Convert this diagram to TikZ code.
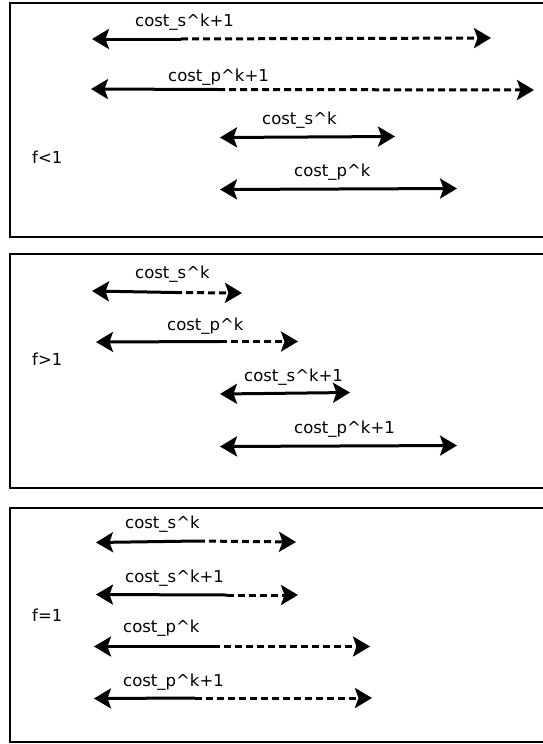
\documentclass[tikz,border=0pt]{standalone}
\usepackage{fontspec}
\setmainfont{DejaVu Sans}
\usetikzlibrary{arrows.meta}
\tikzset{
  headtip/.tip={Stealth[length=17pt,width=20pt,inset=3.5pt]},
  panel/.style={line width=2.6pt, draw=black},
  lbl/.style={anchor=base west, inner sep=0pt, font=\fontsize{16.5pt}{19pt}\selectfont},
  solidpart/.style={line width=3pt, -headtip},
  dashpart/.style={line width=3pt, dash pattern=on 7pt off 4pt, -headtip},
  bothtips/.style={line width=3pt, headtip-headtip}
}
\begin{document}
\begin{tikzpicture}[x=1pt,y=-1pt]
\useasboundingbox (0,0) rectangle (543,744);
\clip (0,0) rectangle (543,744);
% panels
\draw[panel] (10,3) rectangle (570,237);
\draw[panel] (10,254) rectangle (570,488);
\draw[panel] (10,508) rectangle (570,742);

% ---------- panel 1: f<1 ----------
\node[lbl] (f1) at (32,163) {f<1};
\node[lbl] (la1) at (135,27) {cost\_s\^{}k+1};
\coordinate (a1l) at (92,39); \coordinate (a1m) at (181,39); \coordinate (a1r) at (491,38);
\draw[solidpart] (a1m) -- (a1l);
\draw[dashpart] (a1m) -- (a1r);
\node[lbl] (la2) at (168,81) {cost\_p\^{}k+1};
\coordinate (a2l) at (91,89); \coordinate (a2m) at (218,89.5); \coordinate (a2r) at (534,90);
\draw[solidpart] (a2m) -- (a2l);
\draw[dashpart] (a2m) -- (a2r);
\node[lbl] (la3) at (262,124) {cost\_s\^{}k};
\coordinate (a3l) at (220,137.5); \coordinate (a3r) at (395,136.5);
\draw[bothtips] (a3l) -- (a3r);
\node[lbl] (la4) at (294,176) {cost\_p\^{}k};
\coordinate (a4l) at (220,189.5); \coordinate (a4r) at (457,188.5);
\draw[bothtips] (a4l) -- (a4r);

% ---------- panel 2: f>1 ----------
\node[lbl] (f2) at (32,365) {f>1};
\node[lbl] (lb1) at (135,278) {cost\_s\^{}k};
\coordinate (b1l) at (92,291); \coordinate (b1m) at (175,292.5); \coordinate (b1r) at (242,293);
\draw[solidpart] (b1m) -- (b1l);
\draw[dashpart] (b1m) -- (b1r);
\node[lbl] (lb2) at (167,330) {cost\_p\^{}k};
\coordinate (b2l) at (96,342); \coordinate (b2m) at (220,341.5); \coordinate (b2r) at (298,341.5);
\draw[solidpart] (b2m) -- (b2l);
\draw[dashpart] (b2m) -- (b2r);
\node[lbl] (lb3) at (244,381) {cost\_s\^{}k+1};
\coordinate (b3l) at (220,394); \coordinate (b3r) at (350,392.5);
\draw[bothtips] (b3l) -- (b3r);
\node[lbl] (lb4) at (294,433) {cost\_p\^{}k+1};
\coordinate (b4l) at (220,446.5); \coordinate (b4r) at (457,445.5);
\draw[bothtips] (b4l) -- (b4r);

% ---------- panel 3: f=1 ----------
\node[lbl] (f3) at (32,621) {f=1};
\node[lbl] (lc1) at (125,528) {cost\_s\^{}k};
\coordinate (c1l) at (96,542.5); \coordinate (c1m) at (198,541); \coordinate (c1r) at (296,542);
\draw[solidpart] (c1m) -- (c1l);
\draw[dashpart] (c1m) -- (c1r);
\node[lbl] (lc2) at (125,582) {cost\_s\^{}k+1};
\coordinate (c2l) at (96,594.5); \coordinate (c2m) at (227,595); \coordinate (c2r) at (298,595);
\draw[solidpart] (c2m) -- (c2l);
\draw[dashpart] (c2m) -- (c2r);
\node[lbl] (lc3) at (123,632) {cost\_p\^{}k};
\coordinate (c3l) at (94,646.5); \coordinate (c3m) at (213,646.5); \coordinate (c3r) at (370,646.5);
\draw[solidpart] (c3m) -- (c3l);
\draw[dashpart] (c3m) -- (c3r);
\node[lbl] (lc4) at (123,686) {cost\_p\^{}k+1};
\coordinate (c4l) at (94,698.5); \coordinate (c4m) at (195,698); \coordinate (c4r) at (372,698);
\draw[solidpart] (c4m) -- (c4l);
\draw[dashpart] (c4m) -- (c4r);
\end{tikzpicture}
\end{document}
